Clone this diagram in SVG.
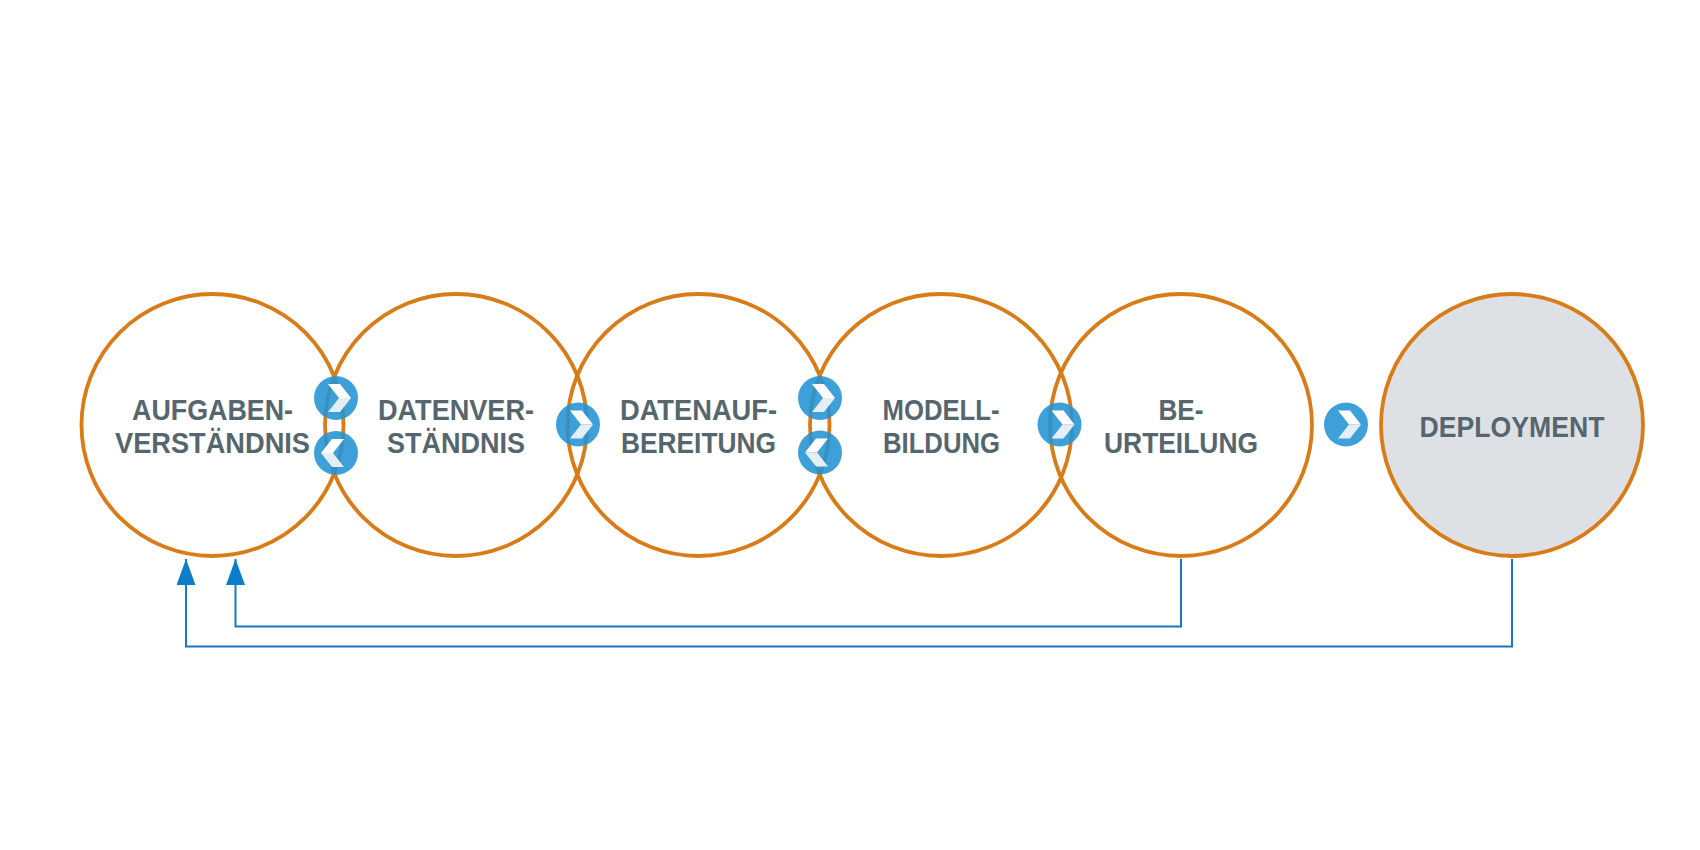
<svg xmlns="http://www.w3.org/2000/svg" width="1700" height="850" viewBox="0 0 1700 850">
  <defs>
    <style>
      .ring { fill: none; stroke: #d97b17; stroke-width: 3.8; }
      .ring-fill { fill: #dde1e5; stroke: #d97b17; stroke-width: 3.8; }
      .lbl { font-family: "Liberation Sans", Arial, sans-serif; font-weight: bold; font-size: 30px; fill: #56666f; text-anchor: middle; }
      .link { fill: none; stroke: #1a78c2; stroke-width: 2; }
      .dot { fill: #2393d4; opacity: 0.88; }
      .chev-top { fill: #ffffff; }
      .chev-bot { fill: #e4eef5; }
    </style>
    <marker id="arrow" viewBox="0 0 26 19" refX="26" refY="9.5" markerWidth="26" markerHeight="19" markerUnits="userSpaceOnUse" orient="auto">
      <path d="M0,0 L26,9.5 L0,19 z" fill="#0b7dc9"/>
    </marker>
    <g id="chev-right">
      <circle class="dot" cx="0" cy="0" r="22"/>
      <polygon class="chev-top" points="-8,-14 4,-14 15,0 3,0"/>
      <polygon class="chev-bot" points="3,0 15,0 4,14 -8,14"/>
    </g>
    <g id="chev-left">
      <circle class="dot" cx="0" cy="0" r="22"/>
      <polygon class="chev-top" points="8,-14 -4,-14 -15,0 -3,0"/>
      <polygon class="chev-bot" points="-3,0 -15,0 -4,14 8,14"/>
    </g>
  </defs>
  <rect x="0" y="0" width="1700" height="850" fill="#ffffff"/>

  <g id="node-aufgabenverstaendnis">
    <circle class="ring" cx="212.5" cy="425" r="131"/>
    <text class="lbl" x="212.5" y="420" textLength="161" lengthAdjust="spacingAndGlyphs">AUFGABEN-</text>
    <text class="lbl" x="212.5" y="453" textLength="195" lengthAdjust="spacingAndGlyphs">VERSTÄNDNIS</text>
  </g>
  <g id="node-datenverstaendnis">
    <circle class="ring" cx="456" cy="425" r="131"/>
    <text class="lbl" x="456" y="420" textLength="156" lengthAdjust="spacingAndGlyphs">DATENVER-</text>
    <text class="lbl" x="456" y="453" textLength="138" lengthAdjust="spacingAndGlyphs">STÄNDNIS</text>
  </g>
  <g id="node-datenaufbereitung">
    <circle class="ring" cx="698.5" cy="425" r="131"/>
    <text class="lbl" x="698.5" y="419.5" textLength="157" lengthAdjust="spacingAndGlyphs">DATENAUF-</text>
    <text class="lbl" x="698.5" y="452.5" textLength="155" lengthAdjust="spacingAndGlyphs">BEREITUNG</text>
  </g>
  <g id="node-modellbildung">
    <circle class="ring" cx="941" cy="425" r="131"/>
    <text class="lbl" x="941" y="419.5" textLength="117" lengthAdjust="spacingAndGlyphs">MODELL-</text>
    <text class="lbl" x="941.5" y="452.5" textLength="117" lengthAdjust="spacingAndGlyphs">BILDUNG</text>
  </g>
  <g id="node-beurteilung">
    <circle class="ring" cx="1181" cy="425" r="131"/>
    <text class="lbl" x="1181" y="419.5" textLength="45" lengthAdjust="spacingAndGlyphs">BE-</text>
    <text class="lbl" x="1181" y="452.5" textLength="154" lengthAdjust="spacingAndGlyphs">URTEILUNG</text>
  </g>
  <g id="node-deployment">
    <circle class="ring-fill" cx="1512" cy="425" r="131"/>
    <text class="lbl" x="1512" y="436.5" textLength="185" lengthAdjust="spacingAndGlyphs">DEPLOYMENT</text>
  </g>

  <g id="connectors">
    <use href="#chev-right" x="336" y="398"/>
    <use href="#chev-left" x="336" y="453"/>
    <use href="#chev-right" x="578" y="424.5"/>
    <use href="#chev-right" x="820" y="398"/>
    <use href="#chev-left" x="820" y="452.5"/>
    <use href="#chev-right" x="1059.5" y="424.5"/>
    <use href="#chev-right" x="1346" y="424.5"/>
    <path class="link" d="M1181,559 L1181,626.5 L235.5,626.5 L235.5,559" marker-end="url(#arrow)"/>
    <path class="link" d="M1512,559 L1512,646.5 L186,646.5 L186,559" marker-end="url(#arrow)"/>
  </g>
</svg>
